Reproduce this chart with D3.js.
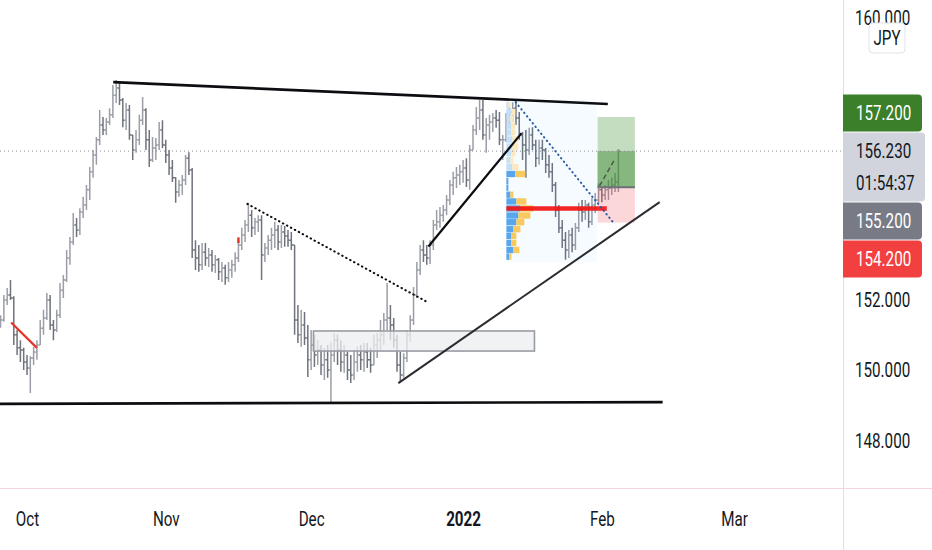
<!DOCTYPE html>
<html>
<head>
<meta charset="utf-8">
<script src="https://cdn.jsdelivr.net/npm/d3@7"></script>
<style>
  body { margin: 0; background: #ffffff; }
  svg { display: block; font-family: Roboto, "Noto Sans", sans-serif; }
</style>
</head>
<body>
<div class="chart"></div>
<script>
const WIDTH = 932;
const HEIGHT = 550;
const PLOT_RIGHT = 843;
const PLOT_BOTTOM = 488;
const TEXT_SQUEEZE = 0.76;   // the screenshot text is narrow

// GBPJPY, two bars per weekday, first bar on this day
const FIRST_BAR_DAY = "2021-09-27";

const opens = [
  151.30, 151.43, 152.00, 152.14, 152.06, 151.01, 150.64, 150.58, 150.24, 150.07,
  150.35, 150.52, 150.72, 151.20, 151.49, 152.00, 151.29, 151.15, 151.57, 152.28,
  152.57, 153.19, 153.65, 154.13, 153.99, 154.50, 154.70, 155.13, 155.64, 156.12,
  156.55, 156.97, 156.83, 157.06, 157.26, 157.82, 158.02, 157.68, 157.11, 157.40,
  156.69, 156.26, 156.55, 157.11, 157.40, 156.55, 155.98, 156.32, 156.40, 156.83,
  156.40, 156.12, 155.75, 155.47, 155.07, 155.27, 155.41, 156.03, 155.69, 153.42,
  153.19, 153.00, 153.36, 153.19, 153.28, 153.00, 153.14, 152.80, 152.91, 152.63,
  152.85, 153.00, 153.19, 153.56, 153.85, 154.13, 154.41, 154.05, 154.22, 154.27,
  153.28, 153.48, 153.70, 153.85, 153.99, 153.65, 153.93, 153.82, 153.70, 153.56,
  151.43, 151.01, 151.29, 150.92, 150.30, 150.72, 150.44, 150.58, 150.15, 150.30,
  150.01, 150.44, 150.86, 150.58, 150.24, 150.44, 150.01, 149.87, 150.24, 150.44,
  150.30, 150.52, 150.30, 150.15, 150.72, 150.86, 151.01, 151.43, 151.49, 151.29,
  150.86, 150.15, 149.87, 150.35, 151.01, 151.43, 152.14, 152.85, 153.42, 153.28,
  153.19, 153.56, 154.13, 154.22, 154.41, 154.56, 154.84, 155.27, 155.47, 155.55,
  155.64, 155.75, 155.41, 156.26, 156.83, 157.17, 157.40, 156.69, 156.97, 157.06,
  157.17, 157.11, 156.55, 156.55, 157.11, 157.34, 157.45, 157.17, 156.69, 156.40,
  156.26, 156.69, 156.40, 156.03, 156.32, 156.26, 155.84, 155.64, 155.27, 154.56,
  154.05, 153.70, 153.42, 153.85, 153.56, 154.05, 154.56, 154.50, 154.70, 154.22,
  154.70, 154.84, 155.13, 154.98, 155.13, 155.18, 155.27, 155.35
];
const highs = [
  151.57, 152.14, 152.34, 152.57, 152.11, 151.15, 150.86, 150.64, 150.44, 150.40,
  150.67, 150.86, 151.43, 151.72, 152.20, 152.14, 151.43, 151.72, 152.48, 152.71,
  153.42, 153.79, 154.47, 154.33, 154.61, 154.93, 155.27, 155.78, 156.26, 156.63,
  157.40, 157.20, 157.17, 157.45, 158.11, 158.25, 158.19, 157.74, 157.60, 157.54,
  156.69, 156.83, 157.26, 157.77, 157.45, 156.83, 156.63, 156.60, 157.06, 157.11,
  156.55, 156.26, 155.98, 155.49, 155.41, 155.55, 156.12, 156.20, 155.75, 153.70,
  153.56, 153.62, 153.62, 153.48, 153.42, 153.28, 153.19, 153.08, 153.00, 153.08,
  153.14, 153.36, 153.70, 154.05, 154.27, 154.76, 154.56, 154.33, 154.41, 154.41,
  153.62, 153.85, 154.05, 154.22, 154.13, 154.13, 154.10, 153.99, 153.93, 153.56,
  151.86, 151.72, 151.66, 151.29, 151.15, 151.01, 150.86, 150.72, 150.64, 150.72,
  150.81, 151.06, 151.01, 150.86, 150.72, 150.52, 150.44, 150.58, 150.67, 150.72,
  150.78, 150.78, 150.64, 151.01, 151.06, 151.43, 151.63, 152.48, 151.86, 151.49,
  151.01, 150.52, 150.49, 151.15, 151.57, 152.37, 153.08, 153.56, 153.70, 153.56,
  153.70, 154.27, 154.56, 154.64, 154.70, 154.98, 155.41, 155.64, 155.78, 155.84,
  155.98, 156.03, 156.40, 156.97, 157.48, 157.68, 157.68, 157.17, 157.26, 157.31,
  157.40, 157.34, 156.69, 157.31, 157.48, 157.62, 157.68, 157.34, 156.77, 156.83,
  156.89, 156.91, 156.55, 156.55, 156.55, 156.32, 156.12, 155.89, 155.35, 154.70,
  154.27, 153.93, 153.99, 154.05, 154.19, 154.76, 154.84, 154.84, 154.76, 154.90,
  155.04, 155.32, 155.21, 155.27, 155.41, 155.47, 155.61, 156.29
];
const lows = [
  151.21, 151.38, 151.86, 152.00, 150.72, 150.44, 150.24, 150.01, 149.87, 149.36,
  150.15, 150.30, 150.72, 151.01, 151.43, 151.15, 150.86, 151.09, 151.49, 152.06,
  152.51, 153.00, 153.56, 153.79, 153.85, 154.33, 154.56, 154.84, 155.47, 155.84,
  156.40, 156.69, 156.69, 156.97, 157.17, 157.60, 157.54, 156.91, 156.83, 156.55,
  155.98, 156.18, 156.40, 156.97, 156.26, 155.78, 155.92, 155.98, 156.26, 156.32,
  155.89, 155.55, 155.35, 154.76, 154.93, 154.98, 155.27, 155.55, 153.19, 152.85,
  152.80, 152.85, 152.97, 152.94, 152.80, 152.77, 152.57, 152.51, 152.43, 152.51,
  152.63, 152.80, 153.08, 153.42, 153.65, 153.93, 153.79, 153.85, 153.93, 152.57,
  153.08, 153.28, 153.42, 153.48, 153.42, 153.48, 153.51, 153.51, 153.42, 151.01,
  150.78, 150.67, 150.72, 149.81, 150.01, 150.10, 150.15, 149.87, 149.73, 149.79,
  149.10, 150.24, 150.15, 149.96, 149.93, 149.73, 149.64, 149.73, 149.96, 150.01,
  149.96, 150.07, 149.93, 150.15, 150.35, 150.58, 150.72, 151.15, 150.86, 150.64,
  149.96, 149.67, 149.79, 150.24, 150.81, 151.29, 152.06, 152.71, 153.08, 153.00,
  153.02, 153.42, 153.99, 154.05, 154.22, 154.41, 154.70, 154.98, 155.18, 155.27,
  155.33, 155.21, 155.13, 156.26, 156.69, 156.83, 156.55, 156.18, 156.55, 156.77,
  156.89, 156.40, 155.98, 156.49, 156.89, 157.06, 156.97, 156.55, 155.98, 155.47,
  156.12, 156.26, 155.78, 155.84, 155.98, 155.61, 155.47, 155.07, 154.36, 153.90,
  153.48, 153.14, 153.19, 153.36, 153.42, 153.93, 154.22, 154.27, 154.05, 154.13,
  154.47, 154.76, 154.78, 154.84, 154.84, 154.98, 155.07, 155.07
];
const closes = [
  151.43, 152.00, 152.14, 152.06, 151.01, 150.64, 150.58, 150.24, 150.07, 150.35,
  150.52, 150.72, 151.20, 151.49, 152.00, 151.29, 151.15, 151.57, 152.28, 152.57,
  153.19, 153.65, 154.13, 153.99, 154.50, 154.70, 155.13, 155.64, 156.12, 156.55,
  156.97, 156.83, 157.06, 157.26, 157.82, 158.02, 157.68, 157.11, 157.40, 156.69,
  156.26, 156.55, 157.11, 157.40, 156.55, 155.98, 156.32, 156.40, 156.83, 156.40,
  156.12, 155.75, 155.47, 155.07, 155.27, 155.41, 156.03, 155.69, 153.42, 153.19,
  153.00, 153.36, 153.19, 153.28, 153.00, 153.14, 152.80, 152.91, 152.63, 152.85,
  153.00, 153.19, 153.56, 153.85, 154.13, 154.41, 154.05, 154.22, 154.27, 153.28,
  153.48, 153.70, 153.85, 153.99, 153.65, 153.93, 153.82, 153.70, 153.56, 151.43,
  151.01, 151.29, 150.92, 150.30, 150.72, 150.44, 150.58, 150.15, 150.30, 150.01,
  150.44, 150.86, 150.58, 150.24, 150.44, 150.01, 149.87, 150.24, 150.44, 150.30,
  150.52, 150.30, 150.15, 150.72, 150.86, 151.01, 151.43, 151.49, 151.29, 150.86,
  150.15, 149.87, 150.35, 151.01, 151.43, 152.14, 152.85, 153.42, 153.28, 153.19,
  153.56, 154.13, 154.22, 154.41, 154.56, 154.84, 155.27, 155.47, 155.55, 155.64,
  155.75, 155.41, 156.26, 156.83, 157.17, 157.40, 156.69, 156.97, 157.06, 157.17,
  157.11, 156.55, 156.55, 157.11, 157.34, 157.45, 157.17, 156.69, 156.40, 156.26,
  156.69, 156.40, 156.03, 156.32, 156.26, 155.84, 155.64, 155.27, 154.56, 154.05,
  153.70, 153.42, 153.85, 153.56, 154.05, 154.56, 154.50, 154.70, 154.22, 154.70,
  154.84, 155.13, 154.98, 155.13, 155.18, 155.27, 155.35, 156.23
];

// axes
const priceTicks = [148, 150, 152, 154, 156, 158, 160];
const timeTickDays = ["2021-10-01", "2021-11-01", "2021-12-01", "2022-01-03", "2022-02-01", "2022-03-01"];
const timeTickLabels = ["Oct", "Nov", "Dec", "2022", "Feb", "Mar"];

// drawings, anchors as [bar index, price]
const resistanceLine = [[34.1, 158.19], [183.8, 157.57]];
const supportLine = [[-0.2, 149.05], [200.4, 149.10]];
const redLine = [[3.2, 151.36], [11.0, 150.64]];
const redMark = [[72, 153.78], [72, 153.62]];
const dottedLine = [[74.7, 154.73], [129.2, 151.94]];
const riseLine = [[129.5, 153.52], [157.7, 156.74]];
const risingSupport = [[120.4, 149.64], [199.5, 154.78]];
const blueDotted = [[155.9, 157.62], [185.3, 154.22]];
const pathLine = [[181.3, 155.24], [185.6, 155.95]];
const zoneBox = {from: 94.7, to: 161.6, top: 151.12, bottom: 150.55};

// fixed range volume profile
const vpRange = {from: 153.1, to: 180.5, top: 157.68, bottom: 153.08};
const vpPrices = [157.54, 157.34, 157.15, 156.95, 156.76, 156.56, 156.36, 156.17, 155.97, 155.78,
  155.58, 155.38, 155.19, 154.99, 154.80, 154.60, 154.40, 154.21, 154.01, 153.82, 153.62, 153.42, 153.23];
const vpUp =   [2, 5, 4, 5, 5, 6, 6, 5, 4, 6, 9, 2, 2, 4, 10, 14, 12, 10, 7, 5, 5, 7, 3];
const vpDown = [2, 4, 3, 4, 4, 6, 6, 4, 3, 6, 10, 0, 0, 3, 10, 13, 12, 8, 7, 5, 5, 6, 2];
const valueAreaHigh = 155.68;
const pocPrice = 154.60;
const pocEnd = 183.5;

// long position tool
const position = {from: 180.7, to: 192.0, entry: 155.2, target: 157.2, stop: 154.2};
const lastPrice = 156.23;
const countdown = "01:54:37";
const currency = "JPY";

// ---------------------------------------------------------------

function tradingIndex(str) {
    // weekdays counted from 2021-10-01
    const base = new Date(Date.UTC(2021, 9, 1));
    const target = new Date(str + "T00:00:00Z");
    const step = target >= base ? 1 : -1;
    const cur = new Date(base);
    let n = 0;
    while (cur.getTime() !== target.getTime()) {
        cur.setUTCDate(cur.getUTCDate() + step);
        const wd = cur.getUTCDay();
        if (wd !== 0 && wd !== 6) n += step;
    }
    return n;
}

const svg = d3.select(".chart")
    .append("svg")
    .attr("width", WIDTH)
    .attr("height", HEIGHT);

svg.append("defs").append("clipPath").attr("id", "plot-clip")
    .append("rect").attr("width", PLOT_RIGHT).attr("height", PLOT_BOTTOM);

const x = d3.scaleLinear()
    .domain([tradingIndex("2021-10-01"), tradingIndex("2022-03-01")])
    .range([27, 734]);
const y = d3.scaleLinear().domain([148, 158]).range([440.8, 88.8]);

const barStart = tradingIndex(FIRST_BAR_DAY);
const bx = (i) => x(barStart + i / 2);
const line = d3.line().x(d => bx(d[0])).y(d => y(d[1]));

const plot = svg.append("g").attr("clip-path", "url(#plot-clip)");

// bars
const bars = closes.map((c, i) => ({i: i, o: opens[i], h: highs[i], l: lows[i], c: c}));
plot.selectAll(".bar")
    .data(bars)
    .enter().append("path")
    .attr("class", "bar")
    .attr("d", d => {
        const cx = bx(d.i);
        return "M" + cx + "," + y(d.h) + "V" + y(d.l) +
            "M" + (cx - 1.7) + "," + y(d.o) + "H" + cx +
            "M" + cx + "," + y(d.c) + "H" + (cx + 1.7);
    })
    .attr("fill", "none")
    .attr("stroke", d => d.c >= d.o ? "#9b9ea6" : "#6f737c")
    .attr("stroke-width", 1.5);

// zone rectangle
plot.append("rect")
    .attr("x", bx(zoneBox.from))
    .attr("y", y(zoneBox.top))
    .attr("width", bx(zoneBox.to) - bx(zoneBox.from))
    .attr("height", y(zoneBox.bottom) - y(zoneBox.top))
    .attr("fill", "rgba(236,237,240,0.75)")
    .attr("stroke", "#9a9ca3")
    .attr("stroke-width", 1.6);

// volume profile
plot.append("rect")
    .attr("x", bx(vpRange.from))
    .attr("y", y(vpRange.top))
    .attr("width", bx(vpRange.to) - bx(vpRange.from))
    .attr("height", y(vpRange.bottom) - y(vpRange.top))
    .attr("fill", "rgba(33,150,243,0.04)");

const vol = d3.scaleLinear().domain([0, 27]).range([0, 27]);
const rows = vpPrices.map((p, i) => ({p: p, up: vpUp[i], down: vpDown[i]}));
const rowG = plot.selectAll(".vp-row").data(rows).enter().append("g").attr("class", "vp-row");
rowG.append("rect")
    .attr("x", bx(vpRange.from))
    .attr("y", d => y(d.p + 0.09))
    .attr("width", d => vol(d.up))
    .attr("height", d => y(d.p - 0.09) - y(d.p + 0.09))
    .attr("fill", d => d.p <= valueAreaHigh ? "#58a7ee" : "#c4e0f8");
rowG.append("rect")
    .attr("x", d => bx(vpRange.from) + vol(d.up))
    .attr("y", d => y(d.p + 0.09))
    .attr("width", d => vol(d.down))
    .attr("height", d => y(d.p - 0.09) - y(d.p + 0.09))
    .attr("fill", d => d.p <= valueAreaHigh ? "#f8c95c" : "#fbe8bd");

plot.append("line")
    .attr("x1", bx(vpRange.from)).attr("x2", bx(pocEnd))
    .attr("y1", y(pocPrice)).attr("y2", y(pocPrice))
    .attr("stroke", "#f21414")
    .attr("stroke-opacity", 0.92)
    .attr("stroke-width", 4.5);

// long position
const px0 = bx(position.from), pw = bx(position.to) - bx(position.from);
plot.append("rect")
    .attr("x", px0).attr("width", pw)
    .attr("y", y(position.target)).attr("height", y(position.entry) - y(position.target))
    .attr("fill", "rgba(60,138,46,0.30)");
plot.append("rect")
    .attr("x", px0).attr("width", pw)
    .attr("y", y(lastPrice)).attr("height", y(position.entry) - y(lastPrice))
    .attr("fill", "rgba(60,138,46,0.45)");
plot.append("rect")
    .attr("x", px0).attr("width", pw)
    .attr("y", y(position.entry)).attr("height", y(position.stop) - y(position.entry))
    .attr("fill", "rgba(242,54,69,0.20)");
plot.append("line")
    .attr("x1", px0).attr("x2", px0 + pw)
    .attr("y1", y(position.entry)).attr("y2", y(position.entry))
    .attr("stroke", "#6d7079").attr("stroke-width", 2);

plot.append("path").datum(pathLine).attr("d", line)
    .attr("fill", "none").attr("stroke", "#4b5a48")
    .attr("stroke-width", 1.5).attr("stroke-dasharray", "5,3");

// trend lines
function drawLine(pts, color, width, dash) {
    plot.append("path").datum(pts).attr("d", line)
        .attr("fill", "none")
        .attr("stroke", color)
        .attr("stroke-width", width)
        .attr("stroke-dasharray", dash || null)
        .attr("stroke-linecap", dash ? "round" : "butt");
}
drawLine(resistanceLine, "#0c0d10", 2.6);
drawLine(supportLine, "#0c0d10", 2.6);
drawLine(redLine, "#e3342a", 2.2);
drawLine(redMark, "#e3342a", 2.4);
drawLine(dottedLine, "#0c0d10", 2, "0.5,4");
drawLine(riseLine, "#0c0d10", 2.2);
drawLine(risingSupport, "#2a2c31", 2);
drawLine(blueDotted, "#2b5aa3", 2, "0.5,4");

// last price line
plot.append("line")
    .attr("x1", 0).attr("x2", PLOT_RIGHT)
    .attr("y1", y(lastPrice)).attr("y2", y(lastPrice))
    .attr("stroke", "#8a8d96")
    .attr("stroke-width", 1)
    .attr("stroke-dasharray", "1,3");

// borders
svg.append("line")
    .attr("x1", PLOT_RIGHT + 0.5).attr("x2", PLOT_RIGHT + 0.5)
    .attr("y1", 0).attr("y2", HEIGHT)
    .attr("stroke", "#f5d5da");
svg.append("line")
    .attr("x1", 0).attr("x2", WIDTH)
    .attr("y1", PLOT_BOTTOM + 0.5).attr("y2", PLOT_BOTTOM + 0.5)
    .attr("stroke", "#f5d5da");

// price labels on the axis, stacked around the last price label
const LABEL_H = 37;
const priceLabels = [
    {price: position.target, lines: [d3.format(".3f")(position.target)], fill: "#3b7f2a", color: "#ffffff"},
    {price: lastPrice, lines: [d3.format(".3f")(lastPrice), countdown], fill: "#d1d4dc", color: "#131722", anchor: true},
    {price: position.entry, lines: [d3.format(".3f")(position.entry)], fill: "#787b86", color: "#ffffff"},
    {price: position.stop, lines: [d3.format(".3f")(position.stop)], fill: "#f23f3f", color: "#ffffff"}
];
const anchorIdx = priceLabels.findIndex(d => d.anchor);
priceLabels.forEach(d => {
    d.h = LABEL_H + (d.lines.length - 1) * 32;
    d.top = y(d.price) - LABEL_H / 2;
});
for (let i = anchorIdx - 1; i >= 0; i--) {
    const below = priceLabels[i + 1];
    priceLabels[i].top = Math.min(priceLabels[i].top, below.top - 1 - priceLabels[i].h);
}
for (let i = anchorIdx + 1; i < priceLabels.length; i++) {
    const above = priceLabels[i - 1];
    priceLabels[i].top = Math.max(priceLabels[i].top, above.top + above.h + 1);
}

// price axis, ticks hidden where a label sits on them
const labelTop = d3.min(priceLabels, d => d.top);
const labelBottom = d3.max(priceLabels, d => d.top + d.h);
const shownTicks = priceTicks.filter(p => y(p) < labelTop - 6 || y(p) > labelBottom + 6);
const yAxis = svg.append("g")
    .attr("transform", "translate(" + PLOT_RIGHT + ",0)")
    .call(d3.axisRight(y).tickValues(shownTicks).tickSize(0).tickFormat(d3.format(".3f")));
yAxis.select(".domain").remove();
yAxis.selectAll("text")
    .attr("x", 12 / TEXT_SQUEEZE)
    .attr("transform", "scale(" + TEXT_SQUEEZE + ",1)")
    .attr("font-size", 20)
    .attr("font-family", "Roboto, sans-serif")
    .attr("fill", "#131722");

// time axis
const xAxis = svg.append("g")
    .attr("transform", "translate(0," + PLOT_BOTTOM + ")")
    .call(d3.axisBottom(x)
        .tickValues(timeTickDays.map(tradingIndex))
        .tickSize(0)
        .tickFormat((d, i) => timeTickLabels[i]));
xAxis.select(".domain").remove();
xAxis.selectAll("text")
    .attr("y", 24)
    .attr("transform", "scale(" + TEXT_SQUEEZE + ",1)")
    .attr("font-size", 20)
    .attr("font-family", "Roboto, sans-serif")
    .attr("font-weight", (d, i) => timeTickLabels[i] === "2022" ? 700 : 400)
    .attr("fill", "#131722");

const labelG = svg.selectAll(".price-label").data(priceLabels).enter().append("g")
    .attr("class", "price-label")
    .attr("transform", d => "translate(" + PLOT_RIGHT + "," + d.top + ")");
labelG.append("path")
    .attr("d", d => {
        const w = d.anchor ? 82 : 79, r = 4;
        return "M0,0H" + (w - r) + "Q" + w + ",0 " + w + "," + r + "V" + (d.h - r) +
            "Q" + w + "," + d.h + " " + (w - r) + "," + d.h + "H0Z";
    })
    .attr("fill", d => d.fill);
labelG.each(function (d) {
    const g = d3.select(this);
    d.lines.forEach((t, k) => {
        g.append("text")
            .attr("x", 13 / TEXT_SQUEEZE)
            .attr("y", LABEL_H / 2 + 7 + k * 32)
            .attr("transform", "scale(" + TEXT_SQUEEZE + ",1)")
            .attr("font-size", 20)
            .attr("font-family", "Roboto, sans-serif")
            .attr("fill", d.color)
            .text(t);
    });
});

// currency button, sitting over the top tick like in the app
const cur = svg.append("g").attr("transform", "translate(869,23)");
cur.append("rect")
    .attr("width", 36).attr("height", 30).attr("rx", 4)
    .attr("fill", "#ffffff")
    .attr("stroke", "#e0e3eb");
cur.append("text")
    .attr("x", 18 / TEXT_SQUEEZE).attr("y", 22)
    .attr("transform", "scale(" + TEXT_SQUEEZE + ",1)")
    .attr("text-anchor", "middle")
    .attr("font-size", 20)
    .attr("font-family", "Roboto, sans-serif")
    .attr("fill", "#131722")
    .text(currency);
</script>
</body>
</html>
